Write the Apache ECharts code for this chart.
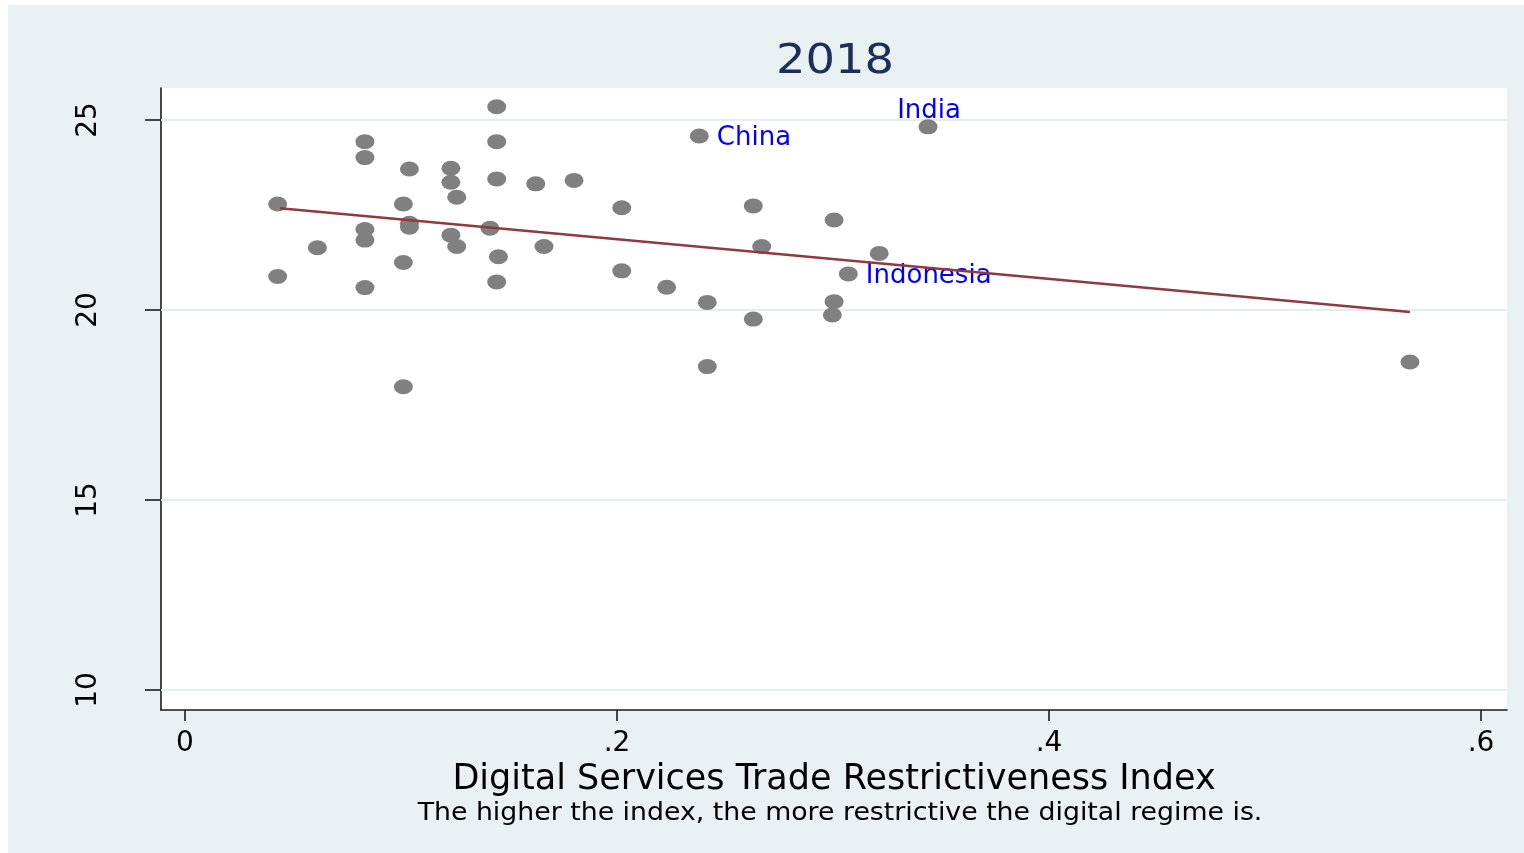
<!DOCTYPE html>
<html>
<head>
<meta charset="utf-8">
<script src="https://cdn.jsdelivr.net/npm/echarts@6/dist/echarts.min.js"></script>
<style>
html,body{margin:0;padding:0;background:#ffffff;width:1524px;height:853px;overflow:hidden;}
#chart{position:absolute;left:8px;top:5px;width:1516px;height:848px;background:#e9f1f3;}
</style>
</head>
<body>
<div id="chart"></div>
<script>
// Digital Services Trade Restrictiveness Index (x) vs outcome (y), 2018
const dstri = [0.1443,0.0833,0.0833,0.1039,0.1231,0.1231,0.1443,0.1443,0.1624,0.1801,
  0.1258,0.0429,0.1011,0.1039,0.1039,0.0833,0.0833,0.1231,0.1258,0.1412,
  0.0613,0.1451,0.1662,0.1011,0.0429,0.1443,0.0833,0.1011,
  0.2381,0.2022,0.2631,0.3005,0.2670,0.3214,0.2022,0.3071,0.2230,0.2418,
  0.3005,0.2997,0.2631,0.2418,0.3440,0.5671];
const outcome = [25.35,24.43,24.01,23.71,23.73,23.36,24.43,23.45,23.32,23.41,
  22.97,22.79,22.79,22.28,22.18,22.12,21.84,21.97,21.67,22.15,
  21.64,21.40,21.67,21.25,20.88,20.74,20.59,17.98,
  24.58,22.69,22.74,22.37,21.67,21.49,21.03,20.95,20.60,20.20,
  20.22,19.87,19.76,18.51,24.82,18.63];
const countryNames = ["","","","","","","","","","",
  "","","","","","","","","","",
  "","","","","","","","",
  "China","","","","","","","Indonesia","","",
  "","","","","India",""];
const labelPos = {China:"right", Indonesia:"right", India:"top"};
const fitLine = [[0.0439,22.68],[0.5671,19.95]];
const xTicks = [0,0.2,0.4,0.6];
const xTickLabels = ["0",".2",".4",".6"];
const yTicks = [10,15,20,25];
const titleText = "2018";
const xTitle = "Digital Services Trade Restrictiveness Index";
const noteText = "The higher the index, the more restrictive the digital regime is.";

const FONT = "DejaVu Sans";
const chart = echarts.init(document.getElementById('chart'));

const scatterData = dstri.map((x,i)=>{
  const item = {value:[x,outcome[i]], name:countryNames[i]};
  const nm = countryNames[i];
  if (nm) {
    const pos = labelPos[nm];
    item.label = {show:true, position:pos, formatter:'{b}',
      color:'#0000ff', fontFamily:FONT, fontSize:26,
      distance: pos==='top' ? 0 : 8,
      offset: pos==='top' ? [1,5] : [0,2]};
  }
  return item;
});

chart.setOption({
  backgroundColor:'#e9f1f3',
  animation:false,
  graphic:[
    {type:'text', x:827, y:58, scaleX:1.16, style:{text:titleText, fill:'#1e2e5a', font:'40px "DejaVu Sans"', align:'center', verticalAlign:'middle'}},
    {type:'text', x:832, y:808, scaleX:1.07, style:{text:noteText, fill:'#000000', font:'25px "DejaVu Sans"', align:'center', verticalAlign:'middle'}}
  ],
  grid:{left:153, top:83, right:17, bottom:143, show:true, backgroundColor:'#ffffff', borderWidth:0},
  xAxis:{
    type:'value', min:-0.01111, max:0.61204,
    name:xTitle, nameLocation:'middle', nameGap:39,
    nameTextStyle:{fontFamily:FONT, fontSize:35, color:'#000'},
    axisLine:{show:true, onZero:false, lineStyle:{color:'#1a1a1a', width:1.6}},
    axisTick:{show:true, length:11, customValues:xTicks, lineStyle:{color:'#1a1a1a', width:1.6}},
    axisLabel:{customValues:xTicks, fontFamily:FONT, fontSize:28, color:'#000', margin:20,
      formatter:(v)=>{const i=xTicks.findIndex(t=>Math.abs(t-v)<1e-9); return i>=0?xTickLabels[i]:'';}},
    splitLine:{show:false}
  },
  yAxis:{
    type:'value', min:9.474, max:25.842,
    axisLine:{show:true, onZero:false, lineStyle:{color:'#1a1a1a', width:1.6}},
    axisTick:{show:true, length:16, customValues:yTicks, lineStyle:{color:'#1a1a1a', width:1.6}},
    axisLabel:{customValues:yTicks, rotate:90, fontFamily:FONT, fontSize:28, color:'#000', margin:58,
      formatter:(v)=>String(Math.round(v))},
    splitLine:{show:false}
  },
  series:[
    {
      type:'scatter', symbol:'circle', symbolSize:[19,15], z:3,
      itemStyle:{color:'#808080', opacity:1},
      data:scatterData,
      markLine:{silent:true, symbol:'none', z:1, label:{show:false},
        lineStyle:{color:'#e3edf0', width:2, type:'solid'},
        data: yTicks.map(v=>({yAxis:v}))}
    },
    {
      type:'line', data:fitLine, symbol:'none', z:4,
      lineStyle:{color:'#8e3a3f', width:2.5}
    }
  ]
});
</script>
</body>
</html>
